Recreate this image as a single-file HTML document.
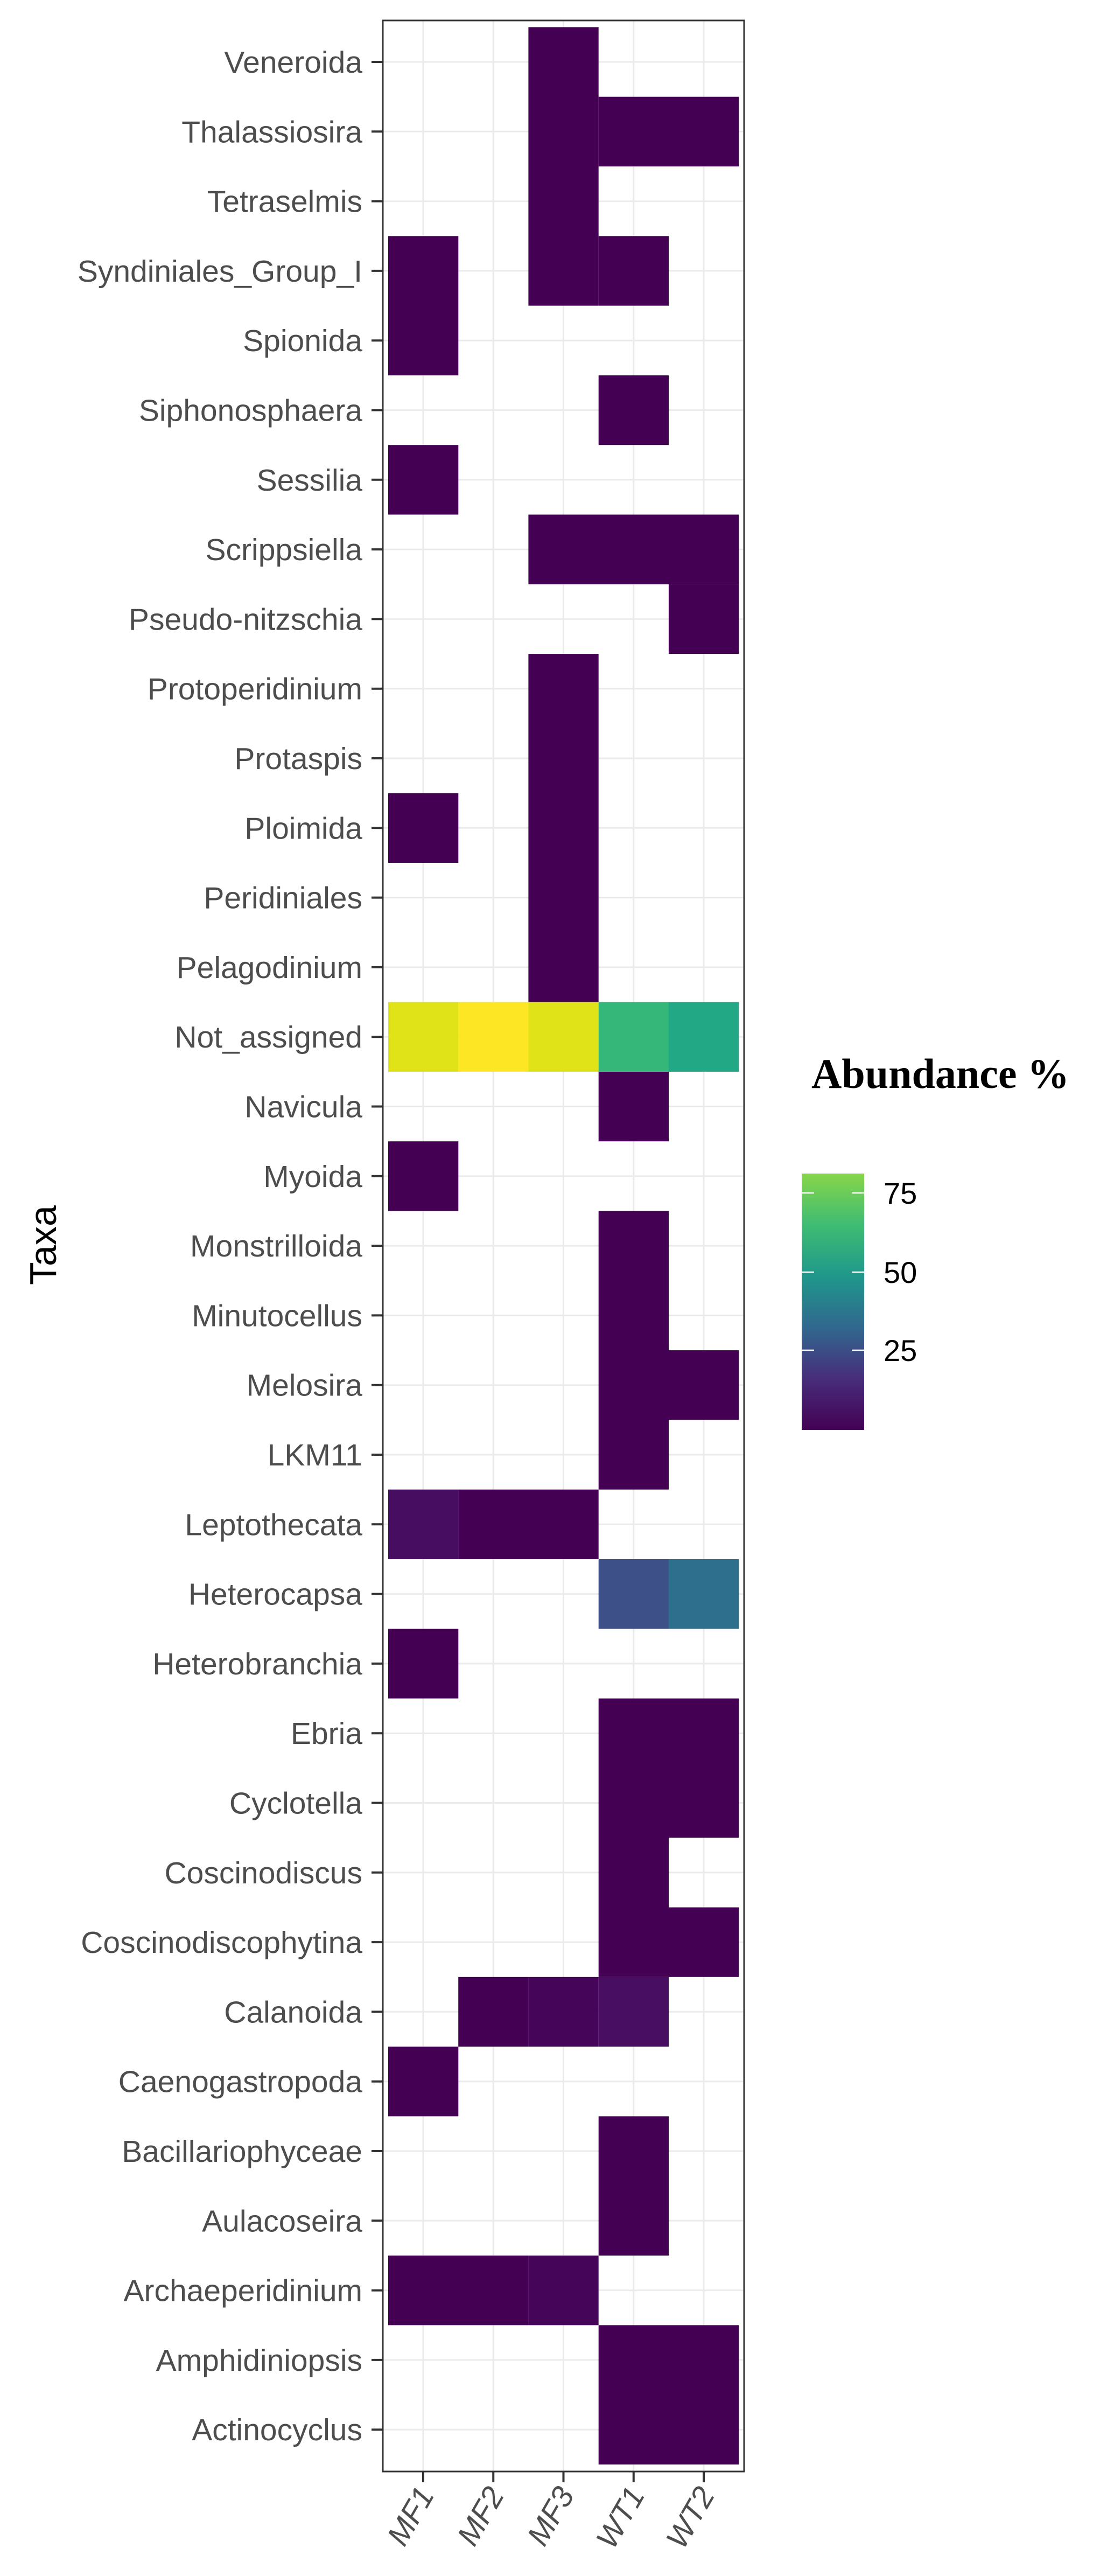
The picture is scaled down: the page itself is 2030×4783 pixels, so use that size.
<!DOCTYPE html>
<html><head><meta charset="utf-8"><style>
html,body{margin:0;padding:0;background:#fff;}
svg{display:block;}
</style></head><body>
<svg width="2030" height="4783" viewBox="0 0 2030 4783" xmlns="http://www.w3.org/2000/svg">
<defs>
<linearGradient id="vir" x1="0" y1="0" x2="0" y2="1">
<stop offset="0" stop-color="#86d549"/>
<stop offset="0.2" stop-color="#3fbc73"/>
<stop offset="0.4" stop-color="#1f988b"/>
<stop offset="0.6" stop-color="#31688e"/>
<stop offset="0.8" stop-color="#472d7b"/>
<stop offset="1" stop-color="#440154"/>
</linearGradient>
</defs>
<rect width="2030" height="4783" fill="#fff"/>
<!-- grid -->
<g stroke="#ebebeb" stroke-width="3">
<line x1="786" y1="38" x2="786" y2="4589"/>
<line x1="916.25" y1="38" x2="916.25" y2="4589"/>
<line x1="1046.5" y1="38" x2="1046.5" y2="4589"/>
<line x1="1176.75" y1="38" x2="1176.75" y2="4589"/>
<line x1="1307" y1="38" x2="1307" y2="4589"/>
</g>
<g stroke="#ebebeb" stroke-width="3" id="hg">
<line x1="711" x2="1382" y1="115" y2="115"/><line x1="711" x2="1382" y1="244.3" y2="244.3"/><line x1="711" x2="1382" y1="373.6" y2="373.6"/><line x1="711" x2="1382" y1="502.9" y2="502.9"/><line x1="711" x2="1382" y1="632.2" y2="632.2"/><line x1="711" x2="1382" y1="761.5" y2="761.5"/><line x1="711" x2="1382" y1="890.8" y2="890.8"/><line x1="711" x2="1382" y1="1020.1" y2="1020.1"/><line x1="711" x2="1382" y1="1149.4" y2="1149.4"/><line x1="711" x2="1382" y1="1278.7" y2="1278.7"/><line x1="711" x2="1382" y1="1408" y2="1408"/><line x1="711" x2="1382" y1="1537.3" y2="1537.3"/><line x1="711" x2="1382" y1="1666.6" y2="1666.6"/><line x1="711" x2="1382" y1="1795.9" y2="1795.9"/><line x1="711" x2="1382" y1="1925.2" y2="1925.2"/><line x1="711" x2="1382" y1="2054.5" y2="2054.5"/><line x1="711" x2="1382" y1="2183.8" y2="2183.8"/><line x1="711" x2="1382" y1="2313.1" y2="2313.1"/><line x1="711" x2="1382" y1="2442.4" y2="2442.4"/><line x1="711" x2="1382" y1="2571.7" y2="2571.7"/><line x1="711" x2="1382" y1="2701" y2="2701"/><line x1="711" x2="1382" y1="2830.3" y2="2830.3"/><line x1="711" x2="1382" y1="2959.6" y2="2959.6"/><line x1="711" x2="1382" y1="3088.9" y2="3088.9"/><line x1="711" x2="1382" y1="3218.2" y2="3218.2"/><line x1="711" x2="1382" y1="3347.5" y2="3347.5"/><line x1="711" x2="1382" y1="3476.8" y2="3476.8"/><line x1="711" x2="1382" y1="3606.1" y2="3606.1"/><line x1="711" x2="1382" y1="3735.4" y2="3735.4"/><line x1="711" x2="1382" y1="3864.7" y2="3864.7"/><line x1="711" x2="1382" y1="3994" y2="3994"/><line x1="711" x2="1382" y1="4123.3" y2="4123.3"/><line x1="711" x2="1382" y1="4252.6" y2="4252.6"/><line x1="711" x2="1382" y1="4381.9" y2="4381.9"/><line x1="711" x2="1382" y1="4511.2" y2="4511.2"/>
</g>
<!-- tiles: cols x=721,851.2,981.4,1111.7,1241.9 w=130.3 ; rows top=50.35+129.3j h=129.3 -->
<g fill="#440154">
<!-- MF3 rows 0-3 -->
<rect x="981.4" y="50.4" width="130.3" height="517.2"/>
<!-- Thalassiosira WT1,WT2 -->
<rect x="1111.7" y="179.7" width="260.6" height="129.3"/>
<!-- Syndiniales MF1, WT1 -->
<rect x="721" y="438.3" width="130.3" height="258.6"/>
<rect x="1111.7" y="438.3" width="130.3" height="129.3"/>
<!-- Siphonosphaera WT1 -->
<rect x="1111.7" y="696.9" width="130.3" height="129.3"/>
<!-- Sessilia MF1 -->
<rect x="721" y="826.2" width="130.3" height="129.3"/>
<!-- Scrippsiella MF3,WT1,WT2 -->
<rect x="981.4" y="955.5" width="390.9" height="129.3"/>
<!-- Pseudo-nitzschia WT2 -->
<rect x="1241.9" y="1084.8" width="130.4" height="129.3"/>
<!-- MF3 rows 9-13 -->
<rect x="981.4" y="1214.1" width="130.3" height="646.5"/>
<!-- Ploimida MF1 -->
<rect x="721" y="1472.7" width="130.3" height="129.3"/>
<!-- Navicula WT1 -->
<rect x="1111.7" y="1989.9" width="130.3" height="129.3"/>
<!-- Myoida MF1 -->
<rect x="721" y="2119.2" width="130.3" height="129.3"/>
<!-- WT1 rows 17-20 -->
<rect x="1111.7" y="2248.5" width="130.3" height="517.2"/>
<!-- Melosira WT2 -->
<rect x="1241.9" y="2507.1" width="130.4" height="129.3"/>
<!-- Leptothecata MF2,MF3 -->
<rect x="851.2" y="2765.7" width="260.5" height="129.3"/>
<!-- Heterobranchia MF1 -->
<rect x="721" y="3024.3" width="130.3" height="129.3"/>
<!-- WT1 rows 24-27 -->
<rect x="1111.7" y="3153.6" width="130.3" height="517.2"/>
<!-- WT2 rows 24,25 -->
<rect x="1241.9" y="3153.6" width="130.4" height="258.6"/>
<!-- WT2 row 27 -->
<rect x="1241.9" y="3541.5" width="130.4" height="129.3"/>
<!-- Calanoida MF2,MF3 -->
<rect x="851.2" y="3670.8" width="130.2" height="129.3"/>
<rect x="981.4" y="3670.8" width="130.3" height="129.3" fill="#450559"/>
<!-- Caenogastropoda MF1 -->
<rect x="721" y="3800.1" width="130.3" height="129.3"/>
<!-- WT1 rows 30,31 -->
<rect x="1111.7" y="3929.4" width="130.3" height="258.6"/>
<!-- Archaeperidinium MF1-MF3 -->
<rect x="721" y="4188" width="260.4" height="129.3"/>
<rect x="981.4" y="4188" width="130.3" height="129.3" fill="#450559"/>
<!-- WT1,WT2 rows 33,34 -->
<rect x="1111.7" y="4317.3" width="260.6" height="258.6"/>
</g>
<!-- special colors -->
<rect x="721" y="2765.7" width="130.3" height="129.3" fill="#470d60"/>
<rect x="1111.7" y="3670.8" width="130.3" height="129.3" fill="#480e61"/>
<rect x="1111.7" y="2895" width="130.3" height="129.3" fill="#3e5088"/>
<rect x="1241.9" y="2895" width="130.4" height="129.3" fill="#2e6f8e"/>
<rect x="721" y="1860.6" width="130.3" height="129.3" fill="#e0e318"/>
<rect x="851.2" y="1860.6" width="130.3" height="129.3" fill="#fde725"/>
<rect x="981.4" y="1860.6" width="130.3" height="129.3" fill="#e0e318"/>
<rect x="1111.7" y="1860.6" width="130.3" height="129.3" fill="#35b779"/>
<rect x="1241.9" y="1860.6" width="130.4" height="129.3" fill="#22a884"/>
<!-- border -->
<rect x="711" y="38" width="671" height="4551" fill="none" stroke="#333" stroke-width="3"/>
<!-- y ticks -->
<g stroke="#333" stroke-width="4">
<line x1="690" x2="711" y1="115" y2="115"/><line x1="690" x2="711" y1="244.3" y2="244.3"/><line x1="690" x2="711" y1="373.6" y2="373.6"/><line x1="690" x2="711" y1="502.9" y2="502.9"/><line x1="690" x2="711" y1="632.2" y2="632.2"/><line x1="690" x2="711" y1="761.5" y2="761.5"/><line x1="690" x2="711" y1="890.8" y2="890.8"/><line x1="690" x2="711" y1="1020.1" y2="1020.1"/><line x1="690" x2="711" y1="1149.4" y2="1149.4"/><line x1="690" x2="711" y1="1278.7" y2="1278.7"/><line x1="690" x2="711" y1="1408" y2="1408"/><line x1="690" x2="711" y1="1537.3" y2="1537.3"/><line x1="690" x2="711" y1="1666.6" y2="1666.6"/><line x1="690" x2="711" y1="1795.9" y2="1795.9"/><line x1="690" x2="711" y1="1925.2" y2="1925.2"/><line x1="690" x2="711" y1="2054.5" y2="2054.5"/><line x1="690" x2="711" y1="2183.8" y2="2183.8"/><line x1="690" x2="711" y1="2313.1" y2="2313.1"/><line x1="690" x2="711" y1="2442.4" y2="2442.4"/><line x1="690" x2="711" y1="2571.7" y2="2571.7"/><line x1="690" x2="711" y1="2701" y2="2701"/><line x1="690" x2="711" y1="2830.3" y2="2830.3"/><line x1="690" x2="711" y1="2959.6" y2="2959.6"/><line x1="690" x2="711" y1="3088.9" y2="3088.9"/><line x1="690" x2="711" y1="3218.2" y2="3218.2"/><line x1="690" x2="711" y1="3347.5" y2="3347.5"/><line x1="690" x2="711" y1="3476.8" y2="3476.8"/><line x1="690" x2="711" y1="3606.1" y2="3606.1"/><line x1="690" x2="711" y1="3735.4" y2="3735.4"/><line x1="690" x2="711" y1="3864.7" y2="3864.7"/><line x1="690" x2="711" y1="3994" y2="3994"/><line x1="690" x2="711" y1="4123.3" y2="4123.3"/><line x1="690" x2="711" y1="4252.6" y2="4252.6"/><line x1="690" x2="711" y1="4381.9" y2="4381.9"/><line x1="690" x2="711" y1="4511.2" y2="4511.2"/>
<line x1="786" x2="786" y1="4589" y2="4609"/><line x1="916.25" x2="916.25" y1="4589" y2="4609"/><line x1="1046.5" x2="1046.5" y1="4589" y2="4609"/><line x1="1176.75" x2="1176.75" y1="4589" y2="4609"/><line x1="1307" x2="1307" y1="4589" y2="4609"/>
</g>
<!-- y labels -->
<g font-family="Liberation Sans, sans-serif" font-size="57" fill="#4d4d4d" text-anchor="end">
<text x="673" y="135">Veneroida</text>
<text x="673" y="264.3">Thalassiosira</text>
<text x="673" y="393.6">Tetraselmis</text>
<text x="673" y="522.9">Syndiniales_Group_I</text>
<text x="673" y="652.2">Spionida</text>
<text x="673" y="781.5">Siphonosphaera</text>
<text x="673" y="910.8">Sessilia</text>
<text x="673" y="1040.1">Scrippsiella</text>
<text x="673" y="1169.4">Pseudo-nitzschia</text>
<text x="673" y="1298.7">Protoperidinium</text>
<text x="673" y="1428">Protaspis</text>
<text x="673" y="1557.3">Ploimida</text>
<text x="673" y="1686.6">Peridiniales</text>
<text x="673" y="1815.9">Pelagodinium</text>
<text x="673" y="1945.2">Not_assigned</text>
<text x="673" y="2074.5">Navicula</text>
<text x="673" y="2203.8">Myoida</text>
<text x="673" y="2333.1">Monstrilloida</text>
<text x="673" y="2462.4">Minutocellus</text>
<text x="673" y="2591.7">Melosira</text>
<text x="673" y="2721">LKM11</text>
<text x="673" y="2850.3">Leptothecata</text>
<text x="673" y="2979.6">Heterocapsa</text>
<text x="673" y="3108.9">Heterobranchia</text>
<text x="673" y="3238.2">Ebria</text>
<text x="673" y="3367.5">Cyclotella</text>
<text x="673" y="3496.8">Coscinodiscus</text>
<text x="673" y="3626.1">Coscinodiscophytina</text>
<text x="673" y="3755.4">Calanoida</text>
<text x="673" y="3884.7">Caenogastropoda</text>
<text x="673" y="4014">Bacillariophyceae</text>
<text x="673" y="4143.3">Aulacoseira</text>
<text x="673" y="4272.6">Archaeperidinium</text>
<text x="673" y="4401.9">Amphidiniopsis</text>
<text x="673" y="4531.2">Actinocyclus</text>
</g>
<!-- x labels -->
<g font-family="Liberation Sans, sans-serif" font-size="57" font-style="italic" fill="#4d4d4d" text-anchor="end">
<text transform="translate(808,4632) rotate(-60)">MF1</text>
<text transform="translate(938,4632) rotate(-60)">MF2</text>
<text transform="translate(1068,4632) rotate(-60)">MF3</text>
<text transform="translate(1199,4632) rotate(-60)">WT1</text>
<text transform="translate(1329,4632) rotate(-60)">WT2</text>
</g>
<!-- axis title -->
<text transform="translate(104,2312) rotate(-90)" text-anchor="middle" font-family="Liberation Sans, sans-serif" font-size="70" fill="#000">Taxa</text>
<!-- legend -->
<text x="1507" y="2020" font-family="Liberation Serif, serif" font-weight="bold" font-size="78" fill="#000">Abundance %</text>
<rect x="1489" y="2179" width="116" height="476" fill="url(#vir)"/>
<g stroke="#fff" stroke-width="2.5">
<line x1="1489" x2="1512" y1="2215" y2="2215"/><line x1="1582" x2="1605" y1="2215" y2="2215"/>
<line x1="1489" x2="1512" y1="2362" y2="2362"/><line x1="1582" x2="1605" y1="2362" y2="2362"/>
<line x1="1489" x2="1512" y1="2507" y2="2507"/><line x1="1582" x2="1605" y1="2507" y2="2507"/>
</g>
<g font-family="Liberation Sans, sans-serif" font-size="56" fill="#000">
<text x="1641" y="2235">75</text>
<text x="1641" y="2382">50</text>
<text x="1641" y="2527">25</text>
</g>
</svg>
</body></html>
